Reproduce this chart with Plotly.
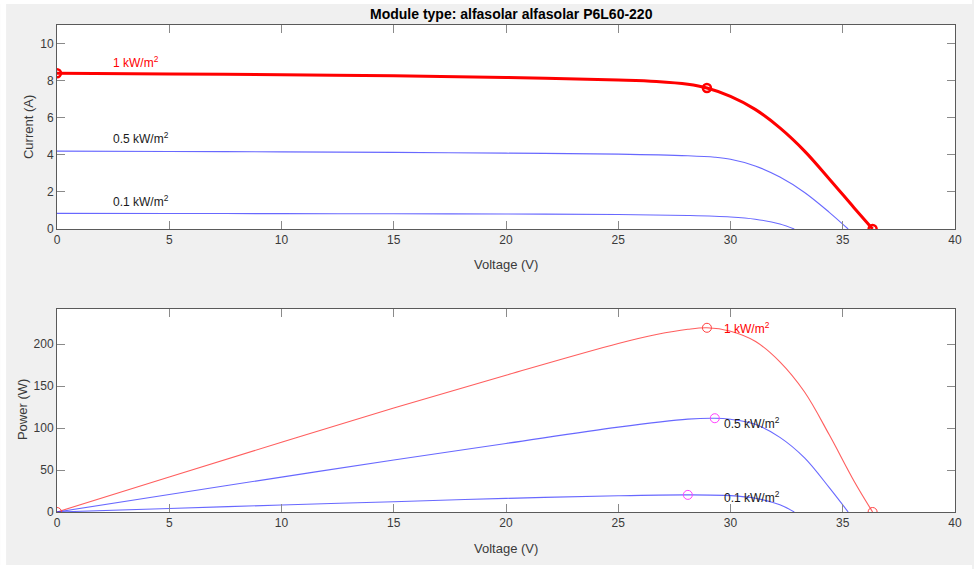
import plotly.graph_objects as go
from plotly.subplots import make_subplots

# ---- I-V curves ----
v_iv_1000 = [0, 5, 10, 15, 20, 25, 26.7, 28.1, 28.95, 30, 31.1, 32.2, 33.3, 34.4, 35.5, 36.33]
i_iv_1000 = [8.4, 8.36, 8.32, 8.26, 8.17, 8.03, 7.95, 7.8, 7.6, 7.15, 6.45, 5.45, 4.2, 2.7, 1.15, 0]
v_iv_500 = [0, 5, 10, 15, 20, 25, 28.1, 29.3, 30, 31.1, 32.2, 33.3, 34.4, 35.24]
i_iv_500 = [4.2, 4.18, 4.16, 4.13, 4.09, 4.04, 3.95, 3.87, 3.76, 3.4, 2.8, 1.97, 0.9, 0]
v_iv_100 = [0, 5, 10, 15, 20, 25, 28.1, 30, 31.1, 32.2, 32.84]
i_iv_100 = [0.84, 0.835, 0.83, 0.82, 0.81, 0.78, 0.73, 0.65, 0.53, 0.27, 0]

# key points on the 1 kW/m2 I-V curve (Isc, MPP, Voc)
v_key_1000 = [0, 28.95, 36.33]
i_key_1000 = [8.4, 7.6, 0]

# ---- P-V curves ----
v_pv_1000 = [0, 5, 10, 15, 20, 25, 26.7, 28.1, 28.95, 30, 31.1, 32.2, 33.3, 34.4, 35.5, 36.33]
p_pv_1000 = [0, 41.8, 83.2, 123.9, 163, 200.8, 211.5, 217.8, 219.6, 215.5, 203.5, 179, 143, 92, 37, 0]
v_pv_500 = [0, 5, 10, 15, 20, 25, 28.1, 29.3, 30, 31.1, 32.2, 33.3, 34.4, 35.24]
p_pv_500 = [0, 20.9, 41.6, 62, 81.7, 101.2, 110.7, 111.8, 110.5, 104.5, 89, 64.5, 29, 0]
v_pv_100 = [0, 5, 10, 15, 20, 25, 28.1, 30, 31.1, 32.2, 32.84]
p_pv_100 = [0, 4.2, 8.3, 12.3, 16.2, 19.4, 20.4, 19.5, 16.4, 8.6, 0]

v_mark_red = [0, 28.95, 36.33]
p_mark_red = [0, 219.6, 0]
v_mark_mag = [29.3, 28.1]
p_mark_mag = [111.8, 20.4]

labels = ["1 kW/m<sup>2</sup>", "0.5 kW/m<sup>2</sup>", "0.1 kW/m<sup>2</sup>"]
label_iv_pos = [(2.4, 9.0), (2.4, 4.9), (2.4, 1.5)]
label_pv_pos = [(29.6, 219), (29.6, 106), (29.6, 18)]
label_colors = ["#ff0000", "#1a1a1a", "#1a1a1a"]

title_text = "Module type: alfasolar alfasolar P6L60-220"

W, H = 974, 569
ML, MR, MT, MB = 57, 17, 25, 57
PW, PH = W - ML - MR, H - MT - MB

fig = make_subplots(rows=2, cols=1)

blue = "rgba(40,40,255,0.7)"
red_thin = "rgba(255,40,40,0.75)"
ln = dict(shape="spline", smoothing=1.0)

fig.add_trace(go.Scatter(x=v_iv_500, y=i_iv_500, mode="lines", line=dict(color=blue, width=1.1, **ln)), row=1, col=1)
fig.add_trace(go.Scatter(x=v_iv_100, y=i_iv_100, mode="lines", line=dict(color=blue, width=1.1, **ln)), row=1, col=1)
fig.add_trace(go.Scatter(x=v_iv_1000, y=i_iv_1000, mode="lines", line=dict(color="#ff0000", width=3, **ln)), row=1, col=1)
fig.add_trace(go.Scatter(x=v_key_1000, y=i_key_1000, mode="markers",
                         marker=dict(symbol="circle-open", size=8, color="#ff0000", line=dict(width=2.5, color="#ff0000"))), row=1, col=1)

fig.add_trace(go.Scatter(x=v_pv_1000, y=p_pv_1000, mode="lines", line=dict(color=red_thin, width=1.1, **ln)), row=2, col=1)
fig.add_trace(go.Scatter(x=v_pv_500, y=p_pv_500, mode="lines", line=dict(color=blue, width=1.1, **ln)), row=2, col=1)
fig.add_trace(go.Scatter(x=v_pv_100, y=p_pv_100, mode="lines", line=dict(color=blue, width=1.1, **ln)), row=2, col=1)
fig.add_trace(go.Scatter(x=v_mark_red, y=p_mark_red, mode="markers",
                         marker=dict(symbol="circle-open", size=9, color="#ff4040", line=dict(width=1, color="#ff4040"))), row=2, col=1)
fig.add_trace(go.Scatter(x=v_mark_mag, y=p_mark_mag, mode="markers",
                         marker=dict(symbol="circle-open", size=9, color="#ff40ff", line=dict(width=1, color="#ff40ff"))), row=2, col=1)

top_bottom = (H - MB - 229) / PH
bot_top = (H - MB - 309) / PH

axis_common = dict(showline=True, linecolor="#5a5a5a", linewidth=1, mirror="allticks",
                   ticks="inside", ticklen=8, tickcolor="#8a8a8a", tickwidth=1,
                   showgrid=False, zeroline=False,
                   tickfont=dict(family="Liberation Sans, Arial, sans-serif", size=12, color="#3a3a3a"))

fig.update_xaxes(range=[0, 40], tickvals=[0, 5, 10, 15, 20, 25, 30, 35, 40], **axis_common)
fig.update_xaxes(domain=[0, 1], row=1, col=1)
fig.update_xaxes(domain=[0, 1], row=2, col=1)
fig.update_yaxes(range=[0, 11], tickvals=[0, 2, 4, 6, 8, 10], domain=[top_bottom, 1], row=1, col=1, **axis_common)
fig.update_yaxes(range=[0, 242], tickvals=[0, 50, 100, 150, 200], domain=[0, bot_top], row=2, col=1, **axis_common)

ann = []
lab_font = "Liberation Sans, Arial, sans-serif"
for txt, (x, y), c in zip(labels, label_iv_pos, label_colors):
    ann.append(dict(x=x, y=y, xref="x", yref="y", text=txt, showarrow=False, xanchor="left", yanchor="middle",
                    font=dict(family=lab_font, size=12, color=c)))
for txt, (x, y), c in zip(labels, label_pv_pos, label_colors):
    ann.append(dict(x=x, y=y, xref="x2", yref="y2", text=txt, showarrow=False, xanchor="left", yanchor="middle",
                    font=dict(family=lab_font, size=12, color=c)))

def px_x(px):
    return (px - ML) / PW

def px_y(py):
    return (H - MB - py) / PH

axis_title_font = dict(family=lab_font, size=13, color="#3a3a3a")
ann.append(dict(x=0.5, y=px_y(264), xref="paper", yref="paper", text="Voltage (V)", showarrow=False,
                xanchor="center", yanchor="middle", font=axis_title_font))
ann.append(dict(x=0.5, y=px_y(548), xref="paper", yref="paper", text="Voltage (V)", showarrow=False,
                xanchor="center", yanchor="middle", font=axis_title_font))
ann.append(dict(x=px_x(28), y=px_y(127), xref="paper", yref="paper", text="Current (A)", showarrow=False,
                textangle=-90, xanchor="center", yanchor="middle", font=axis_title_font))
ann.append(dict(x=px_x(22), y=px_y(410), xref="paper", yref="paper", text="Power (W)", showarrow=False,
                textangle=-90, xanchor="center", yanchor="middle", font=axis_title_font))
ann.append(dict(x=px_x(513), y=px_y(14), xref="paper", yref="paper", text="<b>" + title_text + "</b>", showarrow=False,
                xanchor="center", yanchor="middle", font=dict(family=lab_font, size=14, color="#000000")))

shapes = [
    dict(type="rect", xref="paper", yref="paper", x0=px_x(0), x1=px_x(6), y0=px_y(H), y1=px_y(0),
         fillcolor="white", line=dict(width=0), layer="below"),
    dict(type="rect", xref="paper", yref="paper", x0=px_x(0), x1=px_x(W), y0=px_y(4), y1=px_y(0),
         fillcolor="white", line=dict(width=0), layer="below"),
    dict(type="rect", xref="paper", yref="paper", x0=px_x(0), x1=px_x(W), y0=px_y(H), y1=px_y(565),
         fillcolor="white", line=dict(width=0), layer="below"),
]

fig.update_layout(width=W, height=H, margin=dict(l=ML, r=MR, t=MT, b=MB),
                  paper_bgcolor="#f0f0f0", plot_bgcolor="white", showlegend=False,
                  annotations=ann, shapes=shapes)

fig.write_html("out.html", config={"displayModeBar": False})

# remove the browser's default page margin so the figure fills the window exactly
with open("out.html", "r", encoding="utf-8") as f:
    html = f.read()
html = html.replace("<head>", "<head><style>html,body{margin:0;padding:0;overflow:hidden;}</style>", 1)
with open("out.html", "w", encoding="utf-8") as f:
    f.write(html)
